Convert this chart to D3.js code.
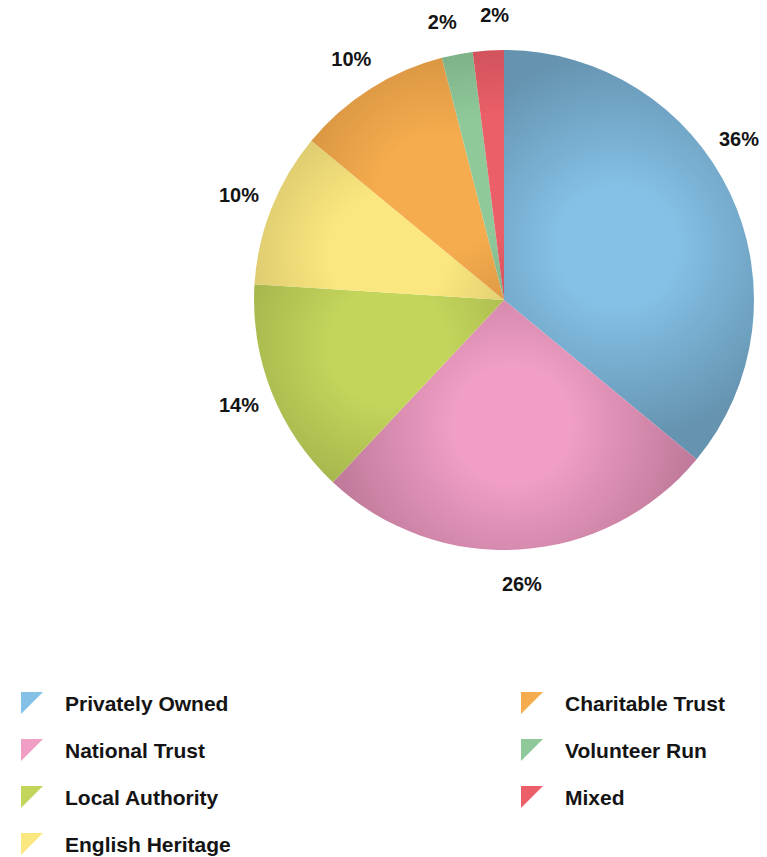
<!DOCTYPE html>
<html>
<head>
<meta charset="utf-8">
<script src="https://cdn.jsdelivr.net/npm/d3@7"></script>
<style>
  html, body { margin: 0; padding: 0; background: #fff; }
  svg { display: block; }
  text { font-family: "Liberation Sans", Arial, sans-serif; font-weight: bold; fill: #141414; }
</style>
</head>
<body>
<svg id="chart"></svg>
<script>
// Ownership of sites, share of total (%)
const categories = ["Privately Owned", "National Trust", "Local Authority", "English Heritage",
                    "Charitable Trust", "Volunteer Run", "Mixed"];
const shares = [36, 26, 14, 10, 10, 2, 2];
const lightColors = ["#85c1e6", "#f09ec4", "#c3d55b", "#fbe77f", "#f5ac4e", "#8fc99a", "#eb5f68"];
const darkColors  = ["#6593b0", "#bb7696", "#98a646", "#c8b764", "#c6873a", "#6c9a76", "#b6464f"];

const W = 767, H = 857;
const cx = 504, cy = 300, R = 250;

const svg = d3.select("#chart").attr("width", W).attr("height", H);
const defs = svg.append("defs");

const data = categories.map((c, i) => ({ name: c, value: shares[i], i }));
const pie = d3.pie().value(d => d.value).sort(null);
const arcs = pie(data);
const arc = d3.arc().innerRadius(0).outerRadius(R);

// Each wedge gets a radial shading centred inside it (coordinates relative to the pie centre)
arcs.forEach((a, k) => {
  const mid = (a.startAngle + a.endAngle) / 2;
  const g = defs.append("radialGradient")
    .attr("id", "shade" + k)
    .attr("gradientUnits", "userSpaceOnUse")
    .attr("cx", Math.sin(mid) * R * 0.5)
    .attr("cy", -Math.cos(mid) * R * 0.5)
    .attr("r", R * 0.78);
  g.append("stop").attr("offset", "0%").attr("stop-color", lightColors[k]);
  g.append("stop").attr("offset", "30%").attr("stop-color", lightColors[k]);
  g.append("stop").attr("offset", "100%").attr("stop-color", darkColors[k]);
});

svg.append("g")
  .attr("transform", `translate(${cx},${cy})`)
  .selectAll("path.slice")
  .data(arcs)
  .join("path")
  .attr("class", "slice")
  .attr("d", arc)
  .attr("fill", (d, k) => `url(#shade${k})`);

// Percentage labels outside the rim
const fontSize = 20;
const labelR = R + 35;
const labels = svg.append("g");
const items = arcs.map((a, k) => {
  const t = labels.append("text")
    .attr("text-anchor", "middle")
    .attr("dominant-baseline", "central")
    .attr("font-size", fontSize)
    .text(shares[k] + "%");
  return { t, ang: (a.startAngle + a.endAngle) / 2, w: t.node().getComputedTextLength() };
});

// pull a label back along the circle if it would leave the page
items.forEach(it => {
  const limit = W - 8 - it.w / 2;
  if (cx + Math.sin(it.ang) * labelR > limit) it.ang = Math.asin((limit - cx) / labelR);
});

// spread neighbouring labels that sit too close together
for (let k = 1; k < items.length; k++) {
  const a = items[k - 1], b = items[k];
  const minSep = (Math.max(a.w, b.w) + 24) / labelR;
  const sep = b.ang - a.ang;
  if (sep < minSep) {
    const m = (a.ang + b.ang) / 2;
    a.ang = m - minSep / 2;
    b.ang = m + minSep / 2;
  }
}

items.forEach(it => {
  it.t.attr("x", cx + Math.sin(it.ang) * labelR)
      .attr("y", cy - Math.cos(it.ang) * labelR);
});

// Legend: two columns of triangular swatches
const legendRows = 4, colX = [21, 521], rowY0 = 703, rowStep = 47, sw = 22;
const legend = svg.append("g");
data.forEach((d, i) => {
  const col = Math.floor(i / legendRows), row = i % legendRows;
  const x = colX[col], y = rowY0 + row * rowStep;
  legend.append("path")
    .attr("d", `M${x},${y - sw / 2}L${x + sw},${y - sw / 2}L${x},${y + sw / 2}Z`)
    .attr("fill", lightColors[i]);
  legend.append("text")
    .attr("x", x + 44).attr("y", y)
    .attr("dominant-baseline", "central")
    .attr("font-size", 21)
    .text(d.name);
});
</script>
</body>
</html>
